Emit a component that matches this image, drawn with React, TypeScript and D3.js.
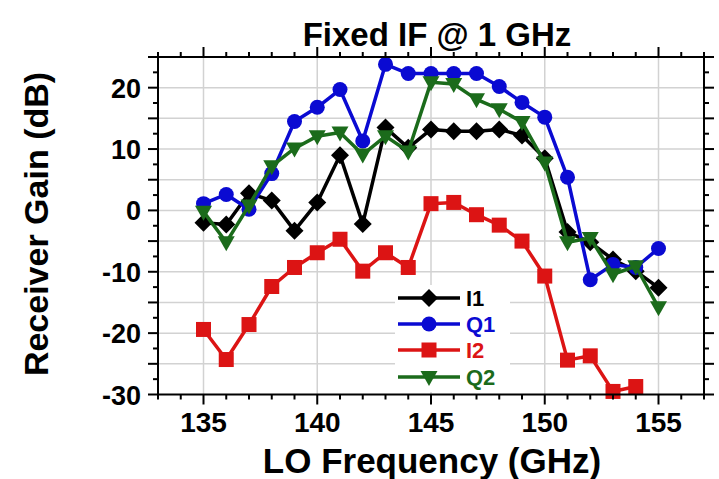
import React from "react";
import * as d3 from "d3";

// LO frequency points (GHz)
const freqs = [135, 136, 137, 138, 139, 140, 141, 142, 143, 144, 145, 146, 147, 148, 149, 150, 151, 152, 153, 154, 155];

// Receiver gain per channel (dB)
const gainI1 = [-2.0, -2.3, 2.8, 1.6, -3.3, 1.3, 9.0, -2.2, 13.5, 10.2, 13.2, 12.9, 12.9, 13.2, 12.2, 8.5, -3.5, -5.2, -8.0, -9.9, -12.6];
const gainQ1 = [1.1, 2.6, 0.2, 6.0, 14.5, 16.8, 19.7, 11.3, 23.8, 22.3, 22.3, 22.3, 22.3, 20.2, 17.6, 15.2, 5.4, -11.3, -8.8, -9.3, -6.2];
const gainI2 = [-19.4, -24.3, -18.6, -12.4, -9.3, -6.9, -4.7, -9.9, -6.9, -9.3, 1.1, 1.3, -0.7, -2.4, -5.0, -10.7, -24.4, -23.7, -29.5, -28.7];
const gainQ2 = [-0.2, -5.2, 0.8, 7.2, 10.1, 12.1, 12.7, 9.1, 12.1, 9.6, 20.9, 20.6, 18.1, 16.5, 14.4, 7.8, -5.2, -4.5, -10.4, -9.1, -15.8];

const seriesNames = ["I1", "Q1", "I2", "Q2"];
const seriesColors = ["#000000", "#0a0ad2", "#dc1414", "#1b6b1b"];
const seriesValues = [gainI1, gainQ1, gainI2, gainQ2];
const seriesMarkers = ["diamond", "circle", "square", "triangleDown"];

const xTickLabels = [135, 140, 145, 150, 155];
const yTickLabels = [-30, -20, -10, 0, 10, 20];

const W = 719;
const H = 479;
const left = 158;
const right = 704;
const top = 57;
const bottom = 394.5;
const FONT = "'Liberation Sans', Arial, sans-serif";

function Marker({ kind, cx, cy, color }: { kind: string; cx: number; cy: number; color: string }) {
  if (kind === "circle") return <circle cx={cx} cy={cy} r={7.5} fill={color} />;
  if (kind === "square") return <rect x={cx - 7.5} y={cy - 7.5} width={15} height={15} fill={color} />;
  if (kind === "diamond") {
    const s = 9;
    return <path d={`M${cx},${cy - s}L${cx + s},${cy}L${cx},${cy + s}L${cx - s},${cy}Z`} fill={color} />;
  }
  const w = 8.5;
  return <path d={`M${cx - w},${cy - 6}L${cx + w},${cy - 6}L${cx},${cy + 9}Z`} fill={color} />;
}

export default function App() {
  const x = d3.scaleLinear().domain([133, 157]).range([left, right]);
  const y = d3.scaleLinear().domain([-30, 25]).range([bottom, top]);

  const xMinor = d3.range(133, 157.01, 1);
  const xGrid = d3.range(135, 155.01, 5);
  const yMinor = d3.range(-30, 25.01, 2.5);
  const yGrid = d3.range(-25, 20.01, 5);

  const line = d3
    .line<[number, number]>()
    .x((d) => x(d[0]))
    .y((d) => y(d[1]));

  const legendX = 398;
  const legendRows = [298, 324, 350, 377];

  return (
    <svg width={W} height={H} style={{ position: "absolute", left: 0, top: 0, background: "#fff" }}>
      <rect x={0} y={0} width={W} height={H} fill="#fff" />

      {/* grid */}
      {xGrid.map((v) => (
        <line key={"gx" + v} x1={x(v)} x2={x(v)} y1={top} y2={bottom} stroke="#d2d2d2" strokeWidth={1.5} />
      ))}
      {yGrid.map((v) => (
        <line key={"gy" + v} x1={left} x2={right} y1={y(v)} y2={y(v)} stroke="#d2d2d2" strokeWidth={1.5} />
      ))}

      {/* legend background */}
      <rect x={395} y={285} width={115} height={107} fill="#fff" />

      {/* series */}
      {seriesValues.map((vals, i) => {
        const pts = vals.map((v, k) => [freqs[k], v] as [number, number]);
        return (
          <g key={seriesNames[i]}>
            <path d={line(pts) || ""} fill="none" stroke={seriesColors[i]} strokeWidth={3.5} strokeLinejoin="round" />
            {pts.map((p, k) => (
              <Marker key={k} kind={seriesMarkers[i]} cx={x(p[0])} cy={y(p[1])} color={seriesColors[i]} />
            ))}
          </g>
        );
      })}

      {/* legend */}
      {seriesNames.map((name, i) => (
        <g key={"lg" + name}>
          <line x1={legendX} x2={legendX + 62} y1={legendRows[i]} y2={legendRows[i]} stroke={seriesColors[i]} strokeWidth={3.5} />
          <Marker kind={seriesMarkers[i]} cx={legendX + 31} cy={legendRows[i]} color={seriesColors[i]} />
          <text x={legendX + 68} y={legendRows[i] + 8} fontFamily={FONT} fontWeight="bold" fontSize={22} fill={seriesColors[i]}>
            {name}
          </text>
        </g>
      ))}

      {/* frame */}
      <rect x={left} y={top} width={right - left} height={bottom - top} fill="none" stroke="#000" strokeWidth={2} />

      {/* x ticks, bottom and top */}
      {xMinor.map((v) => {
        const major = v % 5 === 0;
        const len = major ? 10 : 5;
        return (
          <g key={"xt" + v}>
            <line x1={x(v)} x2={x(v)} y1={bottom} y2={bottom + len} stroke="#000" strokeWidth={2} />
            <line x1={x(v)} x2={x(v)} y1={top} y2={top - len} stroke="#000" strokeWidth={2} />
          </g>
        );
      })}
      {/* y ticks, left and right */}
      {yMinor.map((v) => {
        const major = v % 5 === 0;
        const len = major ? 10 : 5;
        return (
          <g key={"yt" + v}>
            <line x1={left} x2={left - len} y1={y(v)} y2={y(v)} stroke="#000" strokeWidth={2} />
            <line x1={right} x2={right + len} y1={y(v)} y2={y(v)} stroke="#000" strokeWidth={2} />
          </g>
        );
      })}

      {/* tick labels */}
      {xTickLabels.map((v) => (
        <text key={"xl" + v} x={x(v)} y={432} textAnchor="middle" fontFamily={FONT} fontWeight="bold" fontSize={28}>
          {v}
        </text>
      ))}
      {yTickLabels.map((v) => (
        <text key={"yl" + v} x={141} y={y(v) + 10} textAnchor="end" fontFamily={FONT} fontWeight="bold" fontSize={27}>
          {v}
        </text>
      ))}

      {/* titles */}
      <text x={437} y={46} textAnchor="middle" fontFamily={FONT} fontWeight="bold" fontSize={33}>
        Fixed IF @ 1 GHz
      </text>
      <text x={432} y={473} textAnchor="middle" fontFamily={FONT} fontWeight="bold" fontSize={35}>
        LO Frequency (GHz)
      </text>
      <text
        transform={`translate(48,224) rotate(-90)`}
        textAnchor="middle"
        fontFamily={FONT}
        fontWeight="bold"
        fontSize={34}
      >
        Receiver Gain (dB)
      </text>
    </svg>
  );
}
